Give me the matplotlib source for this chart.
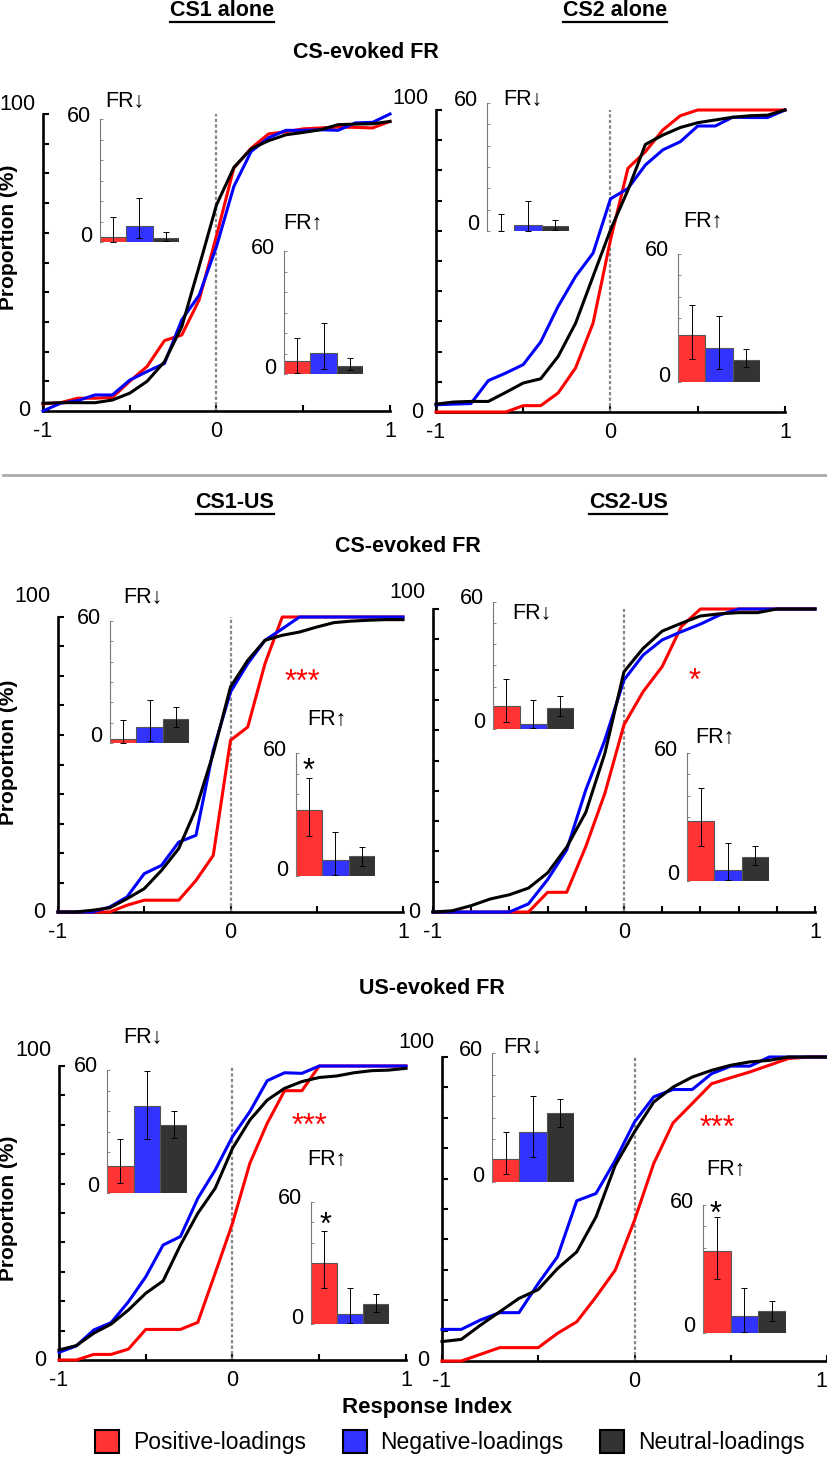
import matplotlib
matplotlib.use('Agg')
import matplotlib.pyplot as plt
from matplotlib.lines import Line2D
from matplotlib.patches import Patch

plt.rcParams['font.family'] = ['Liberation Sans', 'DejaVu Sans']

W, H = 828, 1462

response_index = [-1.0, -0.9, -0.8, -0.7, -0.6, -0.5, -0.4, -0.3, -0.2, -0.1, 0.0,
                  0.1, 0.2, 0.3, 0.4, 0.5, 0.6, 0.7, 0.8, 0.9, 1.0]

# cumulative proportion (%) -- CS1 alone, CS-evoked
cs1_alone_pos = [2.4, 2.8, 4.3, 4.3, 4.6, 10, 15, 23.7, 25.6, 37.4, 59, 81.8, 88.5, 93.3, 94, 95, 95.3, 95.6, 95.5, 95.3, 97.5]
cs1_alone_neg = [0, 2.6, 3.5, 5.4, 5.4, 10.4, 13.3, 16, 30.7, 39, 55.4, 75.6, 87.4, 92, 94.5, 94.5, 94.7, 94.5, 97, 97.2, 100]
cs1_alone_neu = [2.6, 2.8, 2.8, 2.8, 3.7, 6, 10, 16.6, 28.4, 48.7, 69.4, 82, 88.3, 91, 93, 93.8, 94.7, 96.4, 96.6, 96.7, 97.5]
# CS2 alone, CS-evoked
cs2_alone_pos = [0, 0, 0, 0, 0, 2.1, 2.1, 6.3, 14.6, 29.4, 57, 80.7, 86.2, 93.4, 98.1, 100, 100, 100, 100, 100, 100]
cs2_alone_neg = [2.4, 2.6, 2.8, 10.4, 12.9, 15.7, 23.2, 35, 44.9, 52.6, 70.6, 74, 81.8, 86.8, 89.5, 94.7, 94.7, 97.6, 97.5, 97.5, 100]
cs2_alone_neu = [2.6, 3.3, 3.5, 3.5, 6.5, 9.6, 11, 18.4, 29.4, 44.9, 60.3, 73.5, 88.6, 91.7, 94.2, 95.8, 96.7, 97.6, 98.1, 98.3, 100]
# CS1-US, CS-evoked
cs1_us_pos = [0, 0, 0, 0, 2.3, 4, 4, 4, 10.7, 19.2, 58.2, 62.7, 84.2, 100, 100, 100, 100, 100, 100, 100, 100]
cs1_us_neg = [0, 0, 0, 1.7, 5.1, 13, 15.8, 23.7, 26, 54.8, 74.6, 84.2, 92.1, 96, 100, 100, 100, 100, 100, 100, 100]
cs1_us_neu = [0, 0, 0.6, 1.4, 4.5, 7.9, 14.1, 21.5, 35, 53.7, 76.3, 85.3, 92.1, 93.8, 94.9, 96.6, 98.1, 98.6, 98.9, 99.1, 99.1]
# CS2-US, CS-evoked
cs2_us_pos = [0, 0, 0, 0, 0, 0, 6.5, 6.5, 21.6, 39.2, 61.8, 72.7, 81, 94.2, 100, 100, 100, 100, 100, 100, 100]
cs2_us_neg = [0, 0, 0, 0, 0, 2.7, 10.7, 20.5, 40.3, 56.8, 76.6, 84.8, 89.8, 92.5, 95, 98, 100, 100, 100, 100, 100]
cs2_us_neu = [0, 0.4, 2.1, 4.3, 5.7, 7.9, 12.9, 21.4, 32.9, 52.4, 79.3, 87, 92.7, 95.3, 97.7, 98.4, 98.8, 98.8, 100, 100, 100]
# CS1-US, US-evoked
us1_pos = [0, 0, 1.9, 1.9, 3.7, 10.4, 10.4, 10.4, 12.8, 29.5, 46.5, 66.9, 80.5, 91.6, 91.6, 100, 100, 100, 100, 100, 100]
us1_neg = [2.6, 4.8, 10.2, 12.7, 19.8, 28.3, 39.1, 42, 55, 64.6, 76, 84.5, 95, 97.7, 97.5, 100, 100, 100, 100, 100, 100]
us1_neu = [3.4, 4.9, 9.1, 12.2, 17, 22.7, 26.9, 39.1, 49.9, 58.4, 72, 81.6, 88.4, 92.4, 94.7, 96.1, 96.6, 97.7, 98.4, 98.6, 99.2]
# CS2-US, US-evoked
us2_pos = [0, 0, 2.2, 4.4, 4.4, 4.4, 9.1, 12.9, 21.1, 29.9, 46.3, 65, 78.3, 84.7, 91.2, 93.2, 95.1, 97.3, 99.5, 100, 100]
us2_neg = [10.4, 10.4, 13.5, 15.9, 15.9, 25.5, 34.3, 52.7, 55.1, 66, 78.6, 86.9, 89.3, 89.3, 94.5, 97, 97, 100, 100, 100, 100]
us2_neu = [6.4, 7.1, 11.8, 16.2, 20.6, 23.5, 30.4, 35.9, 47.4, 64.4, 75.4, 85.2, 90.1, 93.4, 95.6, 97.3, 98.4, 98.9, 100, 100, 100]

# inset bars (% of cells): mean, [lower, upper] of error bar
cs1_alone_down = [2.5, 8.0, 2.0]
cs1_alone_down_ci = [[0, 2, 0.5], [12, 21.5, 5]]
cs1_alone_up = [6.3, 10.4, 4.0]
cs1_alone_up_ci = [[0.5, 2.6, 2], [17.7, 25, 8]]
cs2_alone_down = [0, 2.8, 2.3]
cs2_alone_down_ci = [[0, 0, 0.5], [8, 14, 5]]
cs2_alone_up = [21.8, 16.0, 10.3]
cs2_alone_up_ci = [[11, 6, 7], [36, 31, 15.5]]
cs1_us_down = [2.0, 7.7, 12.0]
cs1_us_down_ci = [[0, 1, 8], [11.3, 21, 17.6]]
cs1_us_up = [32.4, 7.7, 9.6]
cs1_us_up_ci = [[19.4, 0.5, 4.7], [48, 21.5, 14]]
cs2_us_down = [10.9, 2.4, 10.0]
cs2_us_down_ci = [[3.3, 0.5, 6.3], [23.6, 13.7, 15.6]]
cs2_us_up = [28.0, 5.0, 11.4]
cs2_us_up_ci = [[16.3, 0.5, 7.4], [43.5, 17.7, 16.4]]
us1_down = [13.2, 42.2, 33.2]
us1_down_ci = [[4.9, 26.3, 27], [26.3, 59.5, 40]]
us1_up = [30.2, 5.0, 10.0]
us1_up_ci = [[17.6, 0.5, 5.9], [45.7, 17.6, 14.7]]
us2_down = [10.6, 23.4, 32.0]
us2_down_ci = [[3.6, 11.5, 25.7], [23.4, 40, 38.7]]
us2_up = [38.3, 8.1, 10.4]
us2_up_ci = [[25.2, 0.5, 5.4], [54.5, 21.3, 15.2]]

group_names = ['Positive-loadings', 'Negative-loadings', 'Neutral-loadings']
line_colors = ['#ff0000', '#0000ff', '#000000']
bar_colors = ['#ff3333', '#3333ff', '#333333']

TICK_FS = 15.5


def fbox(x0, y0, x1, y1):
    return [x0 / W, 1 - y1 / H, (x1 - x0) / W, (y1 - y0) / H]


def fx(x):
    return x / W


def fy(y):
    return 1 - y / H


fig = plt.figure(figsize=(W / 100, H / 100), dpi=100)


def main_panel(box, curves, top_off, xminor, last_right=False):
    ax = fig.add_axes(fbox(*box))
    ax.patch.set_alpha(0)
    for vals, c in zip(curves, line_colors):
        ax.plot(response_index, vals, color=c, lw=2.2, clip_on=False, zorder=3)
    ax.axvline(0, color='#888888', lw=1.6, ls=(0, (1.5, 1.0)), zorder=2)
    ax.set_xlim(-1, 1)
    ax.set_ylim(0, 100)
    for s in ['top', 'right']:
        ax.spines[s].set_visible(False)
    for s in ['left', 'bottom']:
        ax.spines[s].set_linewidth(1.9)
    ax.set_xticks([-1, 0, 1])
    ax.set_xticklabels(['-1', '0', '1'])
    ax.set_xticks(xminor, minor=True)
    ax.set_yticks(range(0, 101, 10))
    ax.set_yticklabels([])
    ax.tick_params(direction='in', length=4, width=1.5, labelsize=TICK_FS, pad=7)
    ax.tick_params(which='minor', direction='in', length=4, width=1.5)
    if last_right:
        ax.get_xticklabels()[-1].set_horizontalalignment('right')
    ax.annotate('100', (0, 1), xycoords='axes fraction', xytext=(-7, top_off),
                textcoords='offset pixels', ha='right', va='center', fontsize=TICK_FS)
    ax.annotate('0', (0, 0), xycoords='axes fraction', xytext=(-13, 0),
                textcoords='offset pixels', ha='right', va='center', fontsize=TICK_FS)
    return ax


def inset(box, mean, ci):
    ax = fig.add_axes(fbox(*box))
    ax.patch.set_alpha(0)
    x = [0.5, 1.5, 2.5]
    lo, hi = ci
    yerr = [[m - l for m, l in zip(mean, lo)], [h - m for m, h in zip(mean, hi)]]
    ax.bar(x, mean, width=1, color=bar_colors, edgecolor='#555555', lw=0.8, zorder=2)
    ax.errorbar(x, mean, yerr=yerr, fmt='none', ecolor='black', elinewidth=0.7,
                capsize=2, capthick=0.7, zorder=3)
    ax.set_xlim(0, 3)
    ax.set_ylim(0, 60)
    for s in ['top', 'right', 'bottom']:
        ax.spines[s].set_visible(False)
    ax.spines['left'].set_color('#777777')
    ax.spines['left'].set_linewidth(0.8)
    ax.set_xticks([])
    ax.set_yticks(range(0, 61, 10))
    ax.set_yticklabels([])
    ax.tick_params(axis='y', direction='in', length=2, width=0.6, colors='#777777')
    ax.annotate('60', (0, 1), xycoords='axes fraction', xytext=(-9, 3),
                textcoords='offset pixels', ha='right', va='center', fontsize=TICK_FS)
    ax.annotate('0', (0, 0), xycoords='axes fraction', xytext=(-8, 6),
                textcoords='offset pixels', ha='right', va='center', fontsize=TICK_FS)
    return ax


def star(x, yc, s, color):
    fs = 22
    em = fs * 100 / 72
    fig.text(fx(x), fy(yc + 0.58 * em), s, ha='center', va='baseline',
             fontsize=fs, color=color)


panels = [
    dict(main=(43, 114, 390, 411), curves=[cs1_alone_pos, cs1_alone_neg, cs1_alone_neu],
         top_off=9, xminor=[-0.5, 0.5],
         down=(100, 119, 179, 242), down_data=(cs1_alone_down, cs1_alone_down_ci), down_lbl=(105, 102),
         up=(284, 251, 363, 374), up_data=(cs1_alone_up, cs1_alone_up_ci), up_lbl=(283, 223)),
    dict(main=(436, 110, 785, 412), curves=[cs2_alone_pos, cs2_alone_neg, cs2_alone_neu],
         top_off=12, xminor=[-0.5, 0.5],
         down=(487, 103, 569, 231), down_data=(cs2_alone_down, cs2_alone_down_ci), down_lbl=(503, 100),
         up=(678, 254, 760, 382), up_data=(cs2_alone_up, cs2_alone_up_ci), up_lbl=(683, 222)),
    dict(main=(58, 617, 403, 912), curves=[cs1_us_pos, cs1_us_neg, cs1_us_neu],
         top_off=20, xminor=[-0.5, 0.5],
         down=(110, 621, 189, 743), down_data=(cs1_us_down, cs1_us_down_ci), down_lbl=(123, 598),
         up=(296, 753, 375, 876), up_data=(cs1_us_up, cs1_us_up_ci), up_lbl=(307, 719)),
    dict(main=(433, 609, 815, 912), curves=[cs2_us_pos, cs2_us_neg, cs2_us_neu],
         top_off=17, xminor=[-0.8, -0.6, -0.4, -0.2, 0.2, 0.4, 0.6, 0.8],
         down=(493, 602, 574, 729), down_data=(cs2_us_down, cs2_us_down_ci), down_lbl=(512, 613),
         up=(687, 753, 769, 881), up_data=(cs2_us_up, cs2_us_up_ci), up_lbl=(695, 737)),
    dict(main=(59, 1066, 406, 1360), curves=[us1_pos, us1_neg, us1_neu],
         top_off=16, xminor=[-0.5, 0.5],
         down=(107, 1070, 187, 1193), down_data=(us1_down, us1_down_ci), down_lbl=(123, 1037),
         up=(311, 1202, 389, 1324), up_data=(us1_up, us1_up_ci), up_lbl=(307, 1160)),
    dict(main=(442, 1057, 827, 1361), curves=[us2_pos, us2_neg, us2_neu],
         top_off=15, xminor=[-0.5, 0.5], last_right=True,
         down=(492, 1053, 574, 1182), down_data=(us2_down, us2_down_ci), down_lbl=(503, 1047),
         up=(703, 1205, 786, 1333), up_data=(us2_up, us2_up_ci), up_lbl=(706, 1170)),
]

for p in panels:
    main_panel(p['main'], p['curves'], p['top_off'], p['xminor'], p.get('last_right', False))
    inset(p['down'], *p['down_data'])
    inset(p['up'], *p['up_data'])
    fig.text(fx(p['down_lbl'][0]), fy(p['down_lbl'][1]), 'FR\u2193', ha='left', va='center', fontsize=15.5)
    fig.text(fx(p['up_lbl'][0]), fy(p['up_lbl'][1]), 'FR\u2191', ha='left', va='center', fontsize=15.5)

# significance marks
star(302, 673, '***', 'red')
star(695, 672, '*', 'red')
star(309, 1117, '***', 'red')
star(717, 1119, '***', 'red')
star(309, 762, '*', 'black')
star(326, 1216, '*', 'black')
star(716, 1205, '*', 'black')

# headings
underlined = []
for x, y, s in [(222, 10, 'CS1 alone'), (615, 10, 'CS2 alone'), (235, 503, 'CS1-US'), (628, 503, 'CS2-US')]:
    underlined.append(fig.text(fx(x), fy(y), s, ha='center', va='center', fontsize=15.5, weight='bold'))
for x, y, s in [(366, 52, 'CS-evoked FR'), (408, 547, 'CS-evoked FR'), (432, 989, 'US-evoked FR')]:
    fig.text(fx(x), fy(y), s, ha='center', va='center', fontsize=15.5, weight='bold')

for y in [237, 752, 1208]:
    fig.text(fx(9), fy(y), 'Proportion (%)', rotation=90, ha='center', va='center',
             fontsize=15, weight='bold')
fig.text(fx(427), fy(1407), 'Response Index', ha='center', va='center', fontsize=16, weight='bold')

fig.add_artist(Line2D([fx(3), fx(828)], [fy(475), fy(475)], color='#aaaaaa', lw=2))

handles = [Patch(facecolor=c, edgecolor='black', lw=1.5, label=n) for c, n in zip(bar_colors, group_names)]
fig.legend(handles=handles, loc='center', bbox_to_anchor=(fx(450), fy(1442)), ncol=3, frameon=False,
           fontsize=16.5, handlelength=1.05, handleheight=1.2, handletextpad=0.6, columnspacing=1.6)

# underline headings
fig.canvas.draw()
r = fig.canvas.get_renderer()
for t in underlined:
    bb = t.get_window_extent(r)
    yl = (bb.y0 - 1) / H
    fig.add_artist(Line2D([bb.x0 / W, bb.x1 / W], [yl, yl], color='black', lw=1.6))

fig.savefig('out.png', dpi=100)
